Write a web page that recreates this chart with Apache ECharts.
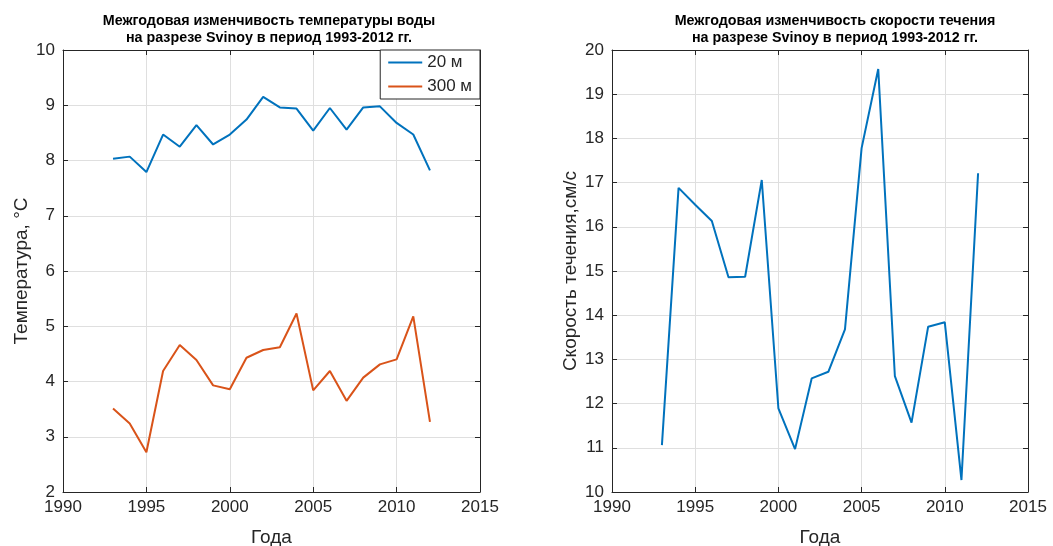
<!DOCTYPE html>
<html>
<head>
<meta charset="utf-8">
<script src="https://cdn.jsdelivr.net/npm/echarts@6/dist/echarts.min.js"></script>
<style>
  html, body { margin: 0; padding: 0; background: #fff; }
  #chart { width: 1053px; height: 546px; }
</style>
</head>
<body>
<div id="chart"></div>
<script>
// Years of observation
const years = [1993, 1994, 1995, 1996, 1997, 1998, 1999, 2000, 2001, 2002,
               2003, 2004, 2005, 2006, 2007, 2008, 2009, 2010, 2011, 2012];

// Water temperature, °C
const temp20 = [8.03, 8.07, 7.79, 8.47, 8.25, 8.64, 8.29, 8.47, 8.74, 9.15,
                8.96, 8.94, 8.54, 8.95, 8.56, 8.96, 8.98, 8.68, 8.47, 7.82];
const temp300 = [3.51, 3.24, 2.72, 4.19, 4.66, 4.39, 3.93, 3.86, 4.43, 4.57,
                 4.62, 5.23, 3.84, 4.19, 3.65, 4.07, 4.31, 4.40, 5.18, 3.27];

// Current speed, cm/s
const speed = [11.06, 16.88, 16.50, 16.13, 14.86, 14.87, 17.06, 11.89, 10.97, 12.57,
               12.72, 13.68, 17.78, 19.57, 12.62, 11.57, 13.74, 13.84, 10.27, 17.21];

const seriesNames = ['20 м', '300 м'];
const titles = [
  'Межгодовая изменчивость температуры воды\nна разрезе Svinoy в период 1993-2012 гг.',
  'Межгодовая изменчивость скорости течения\nна разрезе Svinoy в период 1993-2012 гг.'
];
const xName = 'Года';
const yNames = ['Температура, °C', 'Скорость течения,см/с'];

const BLUE = '#0072BD';
const ORANGE = '#D95319';
const AXIS = '#262626';
const GRID = '#dfdfdf';
const FONT = 'Liberation Sans, Arial, sans-serif';

const pairs = arr => years.map((y, i) => [y, arr[i]]);

function xAxes(gridIndex) {
  const main = {
    type: 'value', gridIndex, min: 1990, max: 2015, interval: 5,
    name: xName, nameLocation: 'middle', nameGap: 36,
    nameTextStyle: { fontSize: 19, color: AXIS, fontFamily: FONT },
    axisLine: { lineStyle: { color: AXIS, width: 1 } },
    axisTick: { inside: true, length: 5, lineStyle: { color: AXIS } },
    axisLabel: { fontSize: 17, color: AXIS, fontFamily: FONT, margin: 7, formatter: v => String(v) },
    splitLine: { show: true, lineStyle: { color: GRID, width: 1 } }
  };
  const top = {
    type: 'value', gridIndex, position: 'top', min: 1990, max: 2015, interval: 5,
    axisLine: { lineStyle: { color: AXIS, width: 1 } },
    axisTick: { inside: true, length: 5, lineStyle: { color: AXIS } },
    axisLabel: { show: false }, splitLine: { show: false }
  };
  return [main, top];
}

function yAxes(gridIndex, min, max, name) {
  const main = {
    type: 'value', gridIndex, min, max, interval: 1,
    name, nameLocation: 'middle', nameGap: 32,
    nameTextStyle: { fontSize: 19, color: AXIS, fontFamily: FONT },
    axisLine: { show: true, lineStyle: { color: AXIS, width: 1 } },
    axisTick: { show: true, inside: true, length: 5, lineStyle: { color: AXIS } },
    axisLabel: { fontSize: 17, color: AXIS, fontFamily: FONT, margin: 8 },
    splitLine: { show: true, lineStyle: { color: GRID, width: 1 } }
  };
  const right = {
    type: 'value', gridIndex, position: 'right', min, max, interval: 1,
    axisLine: { show: true, lineStyle: { color: AXIS, width: 1 } },
    axisTick: { show: true, inside: true, length: 5, lineStyle: { color: AXIS } },
    axisLabel: { show: false }, splitLine: { show: false }
  };
  return [main, right];
}

const chart = echarts.init(document.getElementById('chart'), null, { renderer: 'canvas' });

const titleStyle = { fontSize: 14.3, fontWeight: 'bold', color: '#000', fontFamily: FONT, lineHeight: 17 };

chart.setOption({
  animation: false,
  backgroundColor: '#fff',
  title: [
    { text: titles[0], left: 264, top: 8, textAlign: 'center', textStyle: titleStyle },
    { text: titles[1], left: 830, top: 8, textAlign: 'center', textStyle: titleStyle }
  ],
  legend: {
    data: seriesNames,
    orient: 'vertical',
    right: 573, top: 50,
    backgroundColor: '#fff',
    borderColor: AXIS, borderWidth: 1,
    padding: [4, 8, 4, 8],
    itemGap: 7,
    itemWidth: 34, itemHeight: 16,
    icon: 'path://M0,7 L34,7 L34,9 L0,9 Z',
    textStyle: { fontSize: 17, color: AXIS, fontFamily: FONT }
  },
  grid: [
    { left: 63, right: 573, top: 50, bottom: 54, outerBoundsMode: 'none' },
    { left: 612, right: 25, top: 50, bottom: 54, outerBoundsMode: 'none' }
  ],
  xAxis: [...xAxes(0), ...xAxes(1)],
  yAxis: [...yAxes(0, 2, 10, yNames[0]), ...yAxes(1, 10, 20, yNames[1])],
  series: [
    {
      name: seriesNames[0], type: 'line', xAxisIndex: 0, yAxisIndex: 0,
      data: pairs(temp20), showSymbol: false, symbol: 'none',
      lineStyle: { color: BLUE, width: 2 }, itemStyle: { color: BLUE }
    },
    {
      name: seriesNames[1], type: 'line', xAxisIndex: 0, yAxisIndex: 0,
      data: pairs(temp300), showSymbol: false, symbol: 'none',
      lineStyle: { color: ORANGE, width: 2 }, itemStyle: { color: ORANGE }
    },
    {
      name: 'speed', type: 'line', xAxisIndex: 2, yAxisIndex: 2,
      data: pairs(speed), showSymbol: false, symbol: 'none',
      lineStyle: { color: BLUE, width: 2 }, itemStyle: { color: BLUE }
    }
  ]
});
</script>
</body>
</html>
